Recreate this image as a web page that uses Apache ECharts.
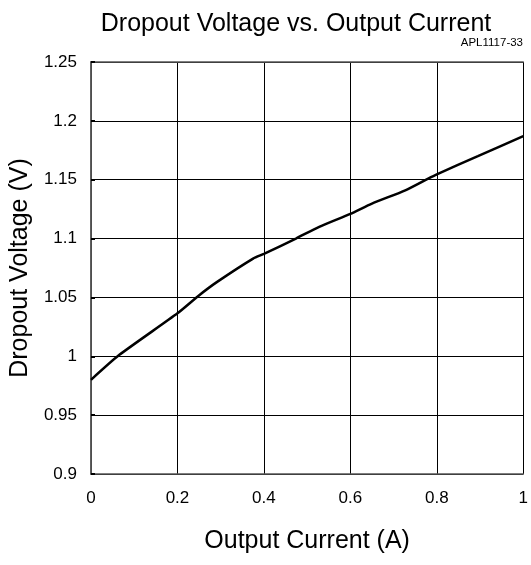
<!DOCTYPE html>
<html><head><meta charset="utf-8">
<script src="https://cdn.jsdelivr.net/npm/echarts@6/dist/echarts.min.js"></script>
<style>html,body{margin:0;padding:0;background:#fff}#c{width:531px;height:565px}</style>
</head><body><div id="c"></div>
<script>
var current = [0, 0.065, 0.2, 0.249, 0.291, 0.375, 0.4, 0.474, 0.528, 0.6, 0.65, 0.727, 0.78, 0.8, 0.895, 1.0];
var voltage = [0.980, 1.001, 1.0365, 1.0515, 1.063, 1.083, 1.087, 1.100, 1.110, 1.121, 1.1297, 1.141, 1.151, 1.1546, 1.170, 1.187];
var xTicks = [0, 0.2, 0.4, 0.6, 0.8, 1];
var yTicks = [0.9, 0.95, 1, 1.05, 1.1, 1.15, 1.2, 1.25];

var data = current.map(function (x, i) { return [x, voltage[i]]; });
var font = 'Liberation Sans, Arial, sans-serif';
var fmt = function (v) { return String(+v.toFixed(2)); };
var chart = echarts.init(document.getElementById('c'));
chart.setOption({
  animation: false,
  backgroundColor: '#fff',
  title: {
    text: 'Dropout Voltage vs. Output Current',
    left: 291, top: 7, textAlign: 'center',
    textStyle: { fontFamily: font, fontSize: 25, fontWeight: 'normal', color: '#000' }
  },
  graphic: [{
    type: 'text', right: 8, top: 37,
    style: { text: 'APL1117-33', fontFamily: font, fontSize: 11.5, fill: '#000' }
  }],
  grid: { left: 90, right: 5, top: 62, bottom: 91, containLabel: false },
  xAxis: [{
    type: 'value', min: xTicks[0], max: xTicks[xTicks.length - 1], interval: 0.2,
    name: 'Output Current (A)', nameLocation: 'middle', nameGap: 55,
    nameTextStyle: { fontFamily: font, fontSize: 25, color: '#000' },
    axisLine: { show: true, lineStyle: { color: '#555', width: 1.5 } },
    axisTick: { show: false },
    axisLabel: { margin: 16, fontFamily: font, fontSize: 17, color: '#000', formatter: fmt },
    splitLine: { show: true, lineStyle: { color: '#000', width: 1 } }
  }, {
    type: 'value', position: 'top', min: 0, max: 1, interval: 0.2,
    axisLine: { show: true, lineStyle: { color: '#555', width: 1.5 } },
    axisTick: { show: false }, axisLabel: { show: false }, splitLine: { show: false }
  }],
  yAxis: [{
    type: 'value', min: yTicks[0], max: yTicks[yTicks.length - 1], interval: 0.05,
    name: 'Dropout Voltage (V)', nameLocation: 'middle', nameGap: 55,
    nameTextStyle: { fontFamily: font, fontSize: 25, color: '#000' },
    axisLine: { show: true, lineStyle: { color: '#555', width: 1.5 } },
    axisTick: { show: true, inside: true, length: 4, lineStyle: { color: '#000', width: 2 } },
    axisLabel: { margin: 14, fontFamily: font, fontSize: 17, color: '#000', formatter: fmt },
    splitLine: { show: true, lineStyle: { color: '#000', width: 1 } }
  }, {
    type: 'value', position: 'right', min: 0.9, max: 1.25, interval: 0.05,
    axisLine: { show: true, lineStyle: { color: '#555', width: 1.5 } },
    axisTick: { show: false }, axisLabel: { show: false }, splitLine: { show: false }
  }],
  series: [{
    type: 'line', data: data, showSymbol: false, smooth: 0.2,
    lineStyle: { color: '#000', width: 2.5 }
  }]
});
</script></body></html>
